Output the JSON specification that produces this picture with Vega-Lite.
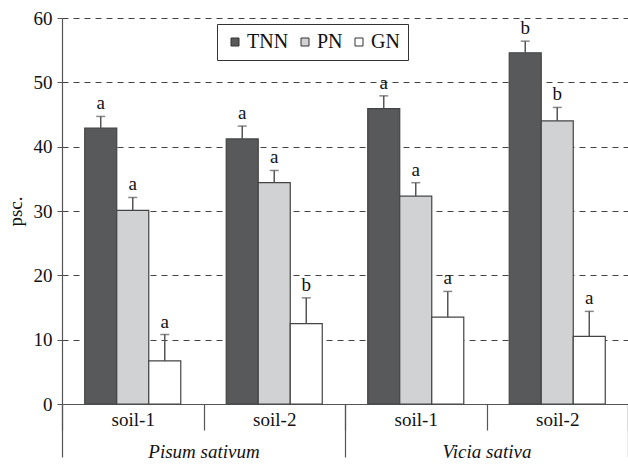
{
  "$schema": "https://vega.github.io/schema/vega-lite/v6.json",
  "width": 566,
  "height": 386,
  "autosize": {"type": "none"},
  "padding": {"left": 62, "top": 18, "right": 0, "bottom": 62},
  "background": "white",
  "config": {"view": {"stroke": null}, "font": "Liberation Serif"},
  "datasets": {
    "bars": [
      {"group": "Pisum sativum|soil-1", "series": "TNN", "value": 42.9, "upper": 44.7, "letter": "a"},
      {"group": "Pisum sativum|soil-1", "series": "PN", "value": 30.1, "upper": 32.1, "letter": "a"},
      {"group": "Pisum sativum|soil-1", "series": "GN", "value": 6.7, "upper": 10.8, "letter": "a"},
      {"group": "Pisum sativum|soil-2", "series": "TNN", "value": 41.2, "upper": 43.2, "letter": "a"},
      {"group": "Pisum sativum|soil-2", "series": "PN", "value": 34.4, "upper": 36.3, "letter": "a"},
      {"group": "Pisum sativum|soil-2", "series": "GN", "value": 12.5, "upper": 16.5, "letter": "b"},
      {"group": "Vicia sativa|soil-1", "series": "TNN", "value": 45.9, "upper": 47.9, "letter": "a"},
      {"group": "Vicia sativa|soil-1", "series": "PN", "value": 32.3, "upper": 34.4, "letter": "a"},
      {"group": "Vicia sativa|soil-1", "series": "GN", "value": 13.5, "upper": 17.5, "letter": "a"},
      {"group": "Vicia sativa|soil-2", "series": "TNN", "value": 54.6, "upper": 56.4, "letter": "b"},
      {"group": "Vicia sativa|soil-2", "series": "PN", "value": 44.0, "upper": 46.1, "letter": "b"},
      {"group": "Vicia sativa|soil-2", "series": "GN", "value": 10.5, "upper": 14.4, "letter": "a"}
    ],
    "species": [{"species": "Pisum sativum"}, {"species": "Vicia sativa"}]
  },
  "layer": [
    {
      "data": {"name": "bars"},
      "encoding": {
        "x": {
          "field": "group", "type": "nominal", "sort": null,
          "scale": {"paddingInner": 0, "paddingOuter": 0},
          "axis": {
            "title": null, "orient": "bottom",
            "labelExpr": "split(datum.label,'|')[1]",
            "tickBand": "extent", "tickSize": 26, "labelPadding": -20, "labelAngle": 0,
            "domainColor": "#555", "tickColor": "#555", "domainWidth": 1.2, "tickWidth": 1.2,
            "labelFontSize": 19, "labelColor": "#111", "labelFont": "Liberation Serif"
          }
        },
        "xOffset": {"field": "series", "type": "nominal", "sort": ["TNN", "PN", "GN"],
          "scale": {"paddingInner": 0, "paddingOuter": 0.71}}
      },
      "layer": [
        {
          "mark": {"type": "bar", "stroke": "#444", "strokeWidth": 1.2},
          "encoding": {
            "y": {
              "field": "value", "type": "quantitative",
              "scale": {"domain": [0, 60]},
              "axis": {
                "title": "psc.", "values": [0, 10, 20, 30, 40, 50, 60],
                "grid": true, "gridDash": [6, 5], "gridColor": "#444", "gridWidth": 1,
                "domainColor": "#555", "tickColor": "#555", "domainWidth": 1.2, "tickSize": 5,
                "labelFontSize": 19, "labelColor": "#111", "labelPadding": 5, "labelFont": "Liberation Serif",
                "titleFontSize": 19, "titleFontWeight": "normal", "titleColor": "#111",
                "titlePadding": 8, "titleFont": "Liberation Serif"
              }
            },
            "fill": {
              "field": "series", "type": "nominal",
              "scale": {"domain": ["TNN", "PN", "GN"], "range": ["#58595b", "#d1d2d4", "#ffffff"]},
              "legend": {
                "orient": "none", "legendX": 155, "legendY": 6, "direction": "horizontal",
                "title": null, "strokeColor": "#333", "fillColor": "white", "padding": 8,
                "symbolType": "square", "symbolSize": 64, "symbolStrokeColor": "#333",
                "symbolStrokeWidth": 1, "labelFontSize": 20, "labelFont": "Liberation Serif",
                "labelColor": "#111", "columnPadding": 6, "labelOffset": 2
              }
            }
          }
        },
        {
          "mark": {"type": "rule", "color": "#555", "strokeWidth": 1.5},
          "encoding": {
            "y": {"field": "value", "type": "quantitative"},
            "y2": {"field": "upper"}
          }
        },
        {
          "mark": {"type": "tick", "color": "#555", "size": 9, "thickness": 1.5},
          "encoding": {"y": {"field": "upper", "type": "quantitative"}}
        },
        {
          "mark": {"type": "text", "baseline": "alphabetic", "dy": -7, "fontSize": 19, "color": "#111", "font": "Liberation Serif"},
          "encoding": {
            "y": {"field": "upper", "type": "quantitative"},
            "text": {"field": "letter"}
          }
        }
      ]
    },
    {
      "data": {"name": "species"},
      "mark": {"type": "text", "text": ""},
      "encoding": {
        "x": {
          "field": "species", "type": "nominal", "sort": null,
          "scale": {"paddingInner": 0, "paddingOuter": 0},
          "axis": {
            "title": null, "orient": "bottom", "domain": false,
            "tickBand": "extent", "tickSize": 53, "labelPadding": -15, "labelAngle": 0,
            "tickColor": "#555", "tickWidth": 1.2,
            "labelFontSize": 19, "labelFontStyle": "italic", "labelColor": "#111", "labelFont": "Liberation Serif"
          }
        }
      }
    }
  ],
  "resolve": {"scale": {"x": "independent"}}
}
